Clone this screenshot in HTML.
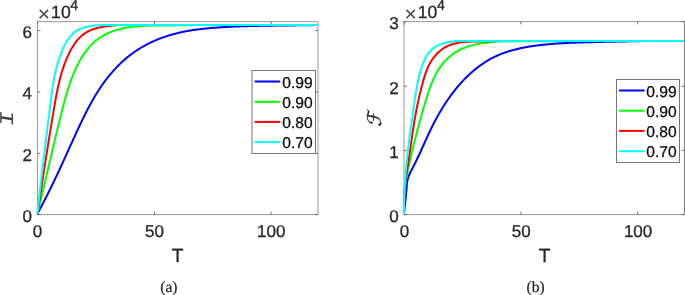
<!DOCTYPE html>
<html><head><meta charset="utf-8"><title>Figure</title>
<style>
html,body{margin:0;padding:0;background:#fff;}
body{width:685px;height:295px;overflow:hidden;}
svg{display:block;}
svg text{font-family:"Liberation Sans",sans-serif;text-rendering:geometricPrecision;stroke:#262626;stroke-width:0.3px;}
svg text.cap{font-family:"Liberation Serif",serif;stroke:#222;stroke-width:0.2px;}
svg text.mi{font-family:"Liberation Mono",monospace;stroke:none;}
svg text.cal{font-family:"DejaVu Sans","DejaVu Math TeX Gyre","DejaVu Serif",serif;}
</style></head><body>
<svg width="685" height="295" viewBox="0 0 685 295">
<rect width="685" height="295" fill="#fff"/>
<g id="left">
<rect x="37.5" y="21.6" width="280.5" height="193.0" fill="#fff" stroke="#999999" stroke-width="1"/>
<path d="M37.5 214.6v-2.8M37.5 21.6v2.8" stroke="#505050" stroke-width="0.8" fill="none"/>
<path d="M154.4 214.6v-2.8M154.4 21.6v2.8" stroke="#505050" stroke-width="0.8" fill="none"/>
<path d="M271.2 214.6v-2.8M271.2 21.6v2.8" stroke="#505050" stroke-width="0.8" fill="none"/>
<path d="M37.5 214.6h2.8M318.0 214.6h-2.8" stroke="#505050" stroke-width="0.8" fill="none"/>
<path d="M37.5 153.4h2.8M318.0 153.4h-2.8" stroke="#505050" stroke-width="0.8" fill="none"/>
<path d="M37.5 91.9h2.8M318.0 91.9h-2.8" stroke="#505050" stroke-width="0.8" fill="none"/>
<path d="M37.5 30.5h2.8M318.0 30.5h-2.8" stroke="#505050" stroke-width="0.8" fill="none"/>
<clipPath id="cl"><rect x="36.5" y="21.6" width="282.5" height="194.0"/></clipPath><g clip-path="url(#cl)" fill="none" stroke-width="2" stroke-linejoin="round">
<path d="M37.40 213.80 L37.88 212.91 L38.36 212.03 L38.84 211.14 L39.31 210.25 L39.79 209.37 L40.26 208.48 L40.73 207.59 L41.20 206.70 L41.67 205.81 L42.14 204.92 L42.60 204.03 L43.07 203.14 L43.53 202.25 L43.99 201.36 L44.45 200.47 L44.91 199.58 L45.37 198.69 L45.82 197.80 L46.28 196.90 L46.73 196.01 L47.18 195.12 L47.63 194.22 L48.08 193.33 L48.52 192.44 L48.97 191.54 L49.42 190.65 L49.86 189.75 L50.30 188.86 L50.74 187.96 L51.18 187.06 L51.62 186.17 L52.06 185.27 L52.49 184.37 L52.93 183.48 L53.36 182.58 L53.80 181.68 L54.23 180.78 L54.66 179.88 L55.09 178.99 L55.52 178.09 L55.94 177.19 L56.37 176.29 L56.79 175.39 L57.22 174.49 L57.64 173.59 L58.06 172.69 L58.49 171.79 L58.91 170.88 L59.33 169.98 L59.74 169.08 L60.16 168.18 L60.58 167.28 L60.99 166.37 L61.41 165.47 L61.82 164.57 L62.24 163.66 L62.65 162.76 L63.07 161.86 L63.48 160.95 L63.89 160.05 L64.30 159.14 L64.71 158.24 L65.12 157.33 L65.54 156.43 L65.95 155.52 L66.36 154.62 L66.77 153.71 L67.18 152.81 L67.59 151.90 L68.00 150.99 L68.41 150.09 L68.82 149.18 L69.23 148.27 L69.64 147.37 L70.05 146.46 L70.46 145.55 L70.87 144.64 L71.29 143.74 L71.70 142.83 L72.11 141.92 L72.53 141.01 L72.94 140.10 L73.35 139.19 L73.77 138.28 L74.19 137.38 L74.60 136.47 L75.02 135.56 L75.44 134.65 L75.86 133.74 L76.28 132.83 L76.70 131.92 L77.12 131.01 L77.54 130.10 L77.97 129.19 L78.39 128.28 L78.82 127.37 L79.25 126.45 L79.68 125.54 L80.11 124.63 L80.54 123.72 L80.97 122.81 L81.41 121.90 L81.85 120.99 L82.28 120.08 L82.73 119.17 L83.17 118.26 L83.61 117.36 L84.06 116.45 L84.51 115.54 L84.96 114.64 L85.41 113.73 L85.87 112.83 L86.33 111.93 L86.79 111.03 L87.25 110.13 L87.72 109.23 L88.19 108.33 L88.66 107.44 L89.13 106.54 L89.61 105.65 L90.09 104.76 L90.57 103.87 L91.06 102.99 L91.55 102.10 L92.05 101.22 L92.54 100.34 L93.04 99.46 L93.55 98.59 L94.06 97.71 L94.57 96.84 L95.09 95.98 L95.61 95.11 L96.13 94.25 L96.66 93.39 L97.19 92.53 L97.73 91.68 L98.27 90.83 L98.81 89.98 L99.36 89.14 L99.92 88.30 L100.48 87.46 L101.04 86.63 L101.61 85.80 L102.18 84.97 L102.76 84.15 L103.35 83.33 L103.93 82.51 L104.53 81.70 L105.13 80.90 L105.73 80.09 L106.34 79.30 L106.95 78.50 L107.57 77.71 L108.19 76.93 L108.82 76.15 L109.46 75.37 L110.09 74.60 L110.74 73.83 L111.39 73.07 L112.04 72.31 L112.70 71.56 L113.36 70.81 L114.03 70.07 L114.70 69.34 L115.38 68.61 L116.06 67.88 L116.75 67.16 L117.44 66.45 L118.14 65.74 L118.85 65.03 L119.55 64.34 L120.27 63.65 L120.98 62.96 L121.71 62.28 L122.43 61.61 L123.17 60.94 L123.90 60.28 L124.65 59.63 L125.39 58.98 L126.15 58.34 L126.90 57.71 L127.67 57.08 L128.43 56.46 L129.20 55.85 L129.98 55.24 L130.76 54.64 L131.55 54.05 L132.34 53.46 L133.14 52.88 L133.94 52.31 L134.75 51.75 L135.56 51.20 L136.37 50.65 L137.19 50.11 L138.02 49.57 L138.85 49.05 L139.68 48.53 L140.52 48.02 L141.36 47.51 L142.21 47.01 L143.06 46.52 L143.92 46.04 L144.78 45.56 L145.64 45.09 L146.51 44.63 L147.38 44.18 L148.26 43.73 L149.14 43.29 L150.03 42.86 L150.91 42.43 L151.81 42.01 L152.70 41.60 L153.60 41.19 L154.50 40.79 L155.41 40.40 L156.32 40.01 L157.23 39.63 L158.15 39.26 L159.07 38.90 L159.99 38.54 L160.91 38.19 L161.84 37.84 L162.78 37.50 L163.71 37.17 L164.65 36.85 L165.59 36.53 L166.53 36.21 L167.48 35.91 L168.43 35.61 L169.38 35.32 L170.33 35.03 L171.29 34.75 L172.25 34.48 L173.21 34.21 L174.18 33.95 L175.14 33.69 L176.11 33.44 L177.08 33.20 L178.05 32.97 L179.03 32.74 L180.01 32.51 L180.98 32.30 L181.97 32.08 L182.95 31.88 L183.93 31.68 L184.92 31.48 L185.91 31.29 L186.90 31.11 L187.89 30.93 L188.88 30.75 L189.87 30.58 L190.87 30.42 L191.86 30.26 L192.86 30.11 L193.86 29.96 L194.86 29.81 L195.86 29.67 L196.87 29.53 L197.87 29.40 L198.87 29.27 L199.88 29.15 L200.88 29.03 L201.89 28.91 L202.90 28.80 L203.91 28.69 L204.91 28.58 L205.92 28.48 L206.93 28.38 L207.94 28.29 L208.95 28.19 L209.96 28.10 L210.97 28.02 L211.98 27.93 L213.00 27.85 L214.01 27.77 L215.02 27.70 L216.03 27.63 L217.04 27.55 L218.05 27.48 L219.06 27.42 L220.07 27.35 L221.08 27.29 L222.09 27.23 L223.10 27.17 L224.11 27.11 L225.12 27.06 L226.12 27.00 L227.13 26.95 L228.14 26.90 L229.14 26.85 L230.15 26.80 L231.15 26.75 L232.16 26.70 L233.16 26.66 L234.16 26.61 L235.16 26.57 L236.17 26.53 L237.17 26.49 L238.17 26.45 L239.17 26.41 L240.17 26.38 L241.17 26.34 L242.17 26.31 L243.17 26.27 L244.17 26.24 L245.16 26.21 L246.16 26.18 L247.16 26.15 L248.16 26.12 L249.15 26.09 L250.15 26.07 L251.15 26.04 L252.14 26.01 L253.14 25.99 L254.14 25.97 L255.13 25.94 L256.13 25.92 L257.12 25.90 L258.12 25.88 L259.11 25.86 L260.10 25.84 L261.10 25.82 L262.09 25.80 L263.09 25.78 L264.08 25.77 L265.07 25.75 L266.07 25.74 L267.06 25.72 L268.06 25.70 L269.05 25.69 L270.04 25.68 L271.04 25.66 L272.03 25.65 L273.02 25.64 L274.02 25.62 L275.01 25.61 L276.00 25.60 L277.00 25.59 L277.99 25.57 L278.99 25.56 L279.98 25.55 L280.97 25.54 L281.97 25.53 L282.96 25.52 L283.96 25.51 L284.95 25.49 L285.95 25.48 L286.94 25.47 L287.94 25.46 L288.93 25.45 L289.93 25.44 L290.93 25.43 L291.92 25.42 L292.92 25.40 L293.92 25.39 L294.91 25.38 L295.91 25.37 L296.91 25.36 L297.91 25.34 L298.90 25.33 L299.90 25.32 L300.90 25.30 L301.90 25.29 L302.90 25.28 L303.90 25.26 L304.90 25.25 L305.91 25.23 L306.91 25.21 L307.91 25.20 L308.91 25.18 L309.92 25.16 L310.92 25.15 L311.92 25.13 L312.93 25.11 L313.93 25.09 L314.94 25.07 L315.95 25.05 L316.95 25.02 L317.96 25.00 L318.00 25.00" stroke="#0000ff"/>
<path d="M37.40 213.80 L37.64 212.82 L37.88 211.85 L38.11 210.87 L38.35 209.90 L38.59 208.92 L38.82 207.95 L39.06 206.97 L39.30 206.00 L39.53 205.02 L39.77 204.05 L40.00 203.07 L40.23 202.10 L40.47 201.13 L40.70 200.15 L40.93 199.18 L41.17 198.20 L41.40 197.23 L41.63 196.26 L41.86 195.28 L42.10 194.31 L42.33 193.34 L42.56 192.36 L42.79 191.39 L43.02 190.42 L43.25 189.44 L43.48 188.47 L43.71 187.50 L43.94 186.53 L44.17 185.55 L44.40 184.58 L44.63 183.61 L44.86 182.64 L45.08 181.66 L45.31 180.69 L45.54 179.72 L45.77 178.75 L46.00 177.78 L46.23 176.80 L46.45 175.83 L46.68 174.86 L46.91 173.89 L47.14 172.92 L47.37 171.95 L47.59 170.97 L47.82 170.00 L48.05 169.03 L48.28 168.06 L48.50 167.09 L48.73 166.12 L48.96 165.15 L49.19 164.17 L49.42 163.20 L49.64 162.23 L49.87 161.26 L50.10 160.29 L50.33 159.32 L50.56 158.35 L50.78 157.38 L51.01 156.41 L51.24 155.43 L51.47 154.46 L51.70 153.49 L51.93 152.52 L52.16 151.55 L52.38 150.58 L52.61 149.61 L52.84 148.64 L53.07 147.67 L53.30 146.70 L53.53 145.72 L53.76 144.75 L53.99 143.78 L54.23 142.81 L54.46 141.84 L54.69 140.87 L54.92 139.90 L55.15 138.93 L55.38 137.96 L55.62 136.98 L55.85 136.01 L56.08 135.04 L56.32 134.07 L56.55 133.10 L56.78 132.13 L57.02 131.16 L57.25 130.19 L57.49 129.21 L57.73 128.24 L57.96 127.27 L58.20 126.30 L58.44 125.33 L58.67 124.36 L58.91 123.38 L59.15 122.41 L59.39 121.44 L59.63 120.47 L59.87 119.50 L60.11 118.52 L60.35 117.55 L60.59 116.58 L60.83 115.61 L61.07 114.63 L61.32 113.66 L61.56 112.69 L61.80 111.72 L62.05 110.74 L62.30 109.77 L62.54 108.80 L62.79 107.83 L63.04 106.86 L63.29 105.88 L63.55 104.91 L63.80 103.94 L64.06 102.97 L64.32 102.00 L64.58 101.03 L64.84 100.07 L65.11 99.10 L65.38 98.13 L65.65 97.17 L65.92 96.20 L66.20 95.24 L66.48 94.27 L66.77 93.31 L67.06 92.35 L67.35 91.39 L67.64 90.43 L67.94 89.48 L68.24 88.52 L68.55 87.56 L68.86 86.61 L69.18 85.66 L69.50 84.71 L69.82 83.76 L70.15 82.81 L70.49 81.87 L70.83 80.93 L71.17 79.99 L71.52 79.05 L71.88 78.11 L72.24 77.17 L72.61 76.24 L72.98 75.31 L73.36 74.38 L73.75 73.45 L74.14 72.53 L74.54 71.60 L74.94 70.68 L75.36 69.77 L75.78 68.85 L76.20 67.94 L76.63 67.03 L77.07 66.12 L77.52 65.22 L77.98 64.32 L78.44 63.42 L78.91 62.52 L79.39 61.63 L79.88 60.75 L80.37 59.86 L80.88 58.99 L81.39 58.12 L81.91 57.25 L82.44 56.40 L82.98 55.55 L83.53 54.71 L84.08 53.87 L84.65 53.05 L85.23 52.23 L85.81 51.42 L86.41 50.62 L87.01 49.83 L87.63 49.06 L88.25 48.29 L88.89 47.54 L89.54 46.79 L90.20 46.06 L90.86 45.34 L91.54 44.64 L92.23 43.95 L92.93 43.27 L93.65 42.61 L94.37 41.96 L95.11 41.33 L95.85 40.71 L96.61 40.10 L97.37 39.51 L98.15 38.94 L98.94 38.37 L99.74 37.82 L100.54 37.29 L101.36 36.77 L102.18 36.26 L103.02 35.77 L103.86 35.29 L104.71 34.83 L105.57 34.38 L106.44 33.94 L107.32 33.52 L108.20 33.11 L109.09 32.71 L109.99 32.33 L110.90 31.96 L111.81 31.60 L112.73 31.26 L113.66 30.93 L114.59 30.61 L115.53 30.31 L116.47 30.01 L117.43 29.73 L118.38 29.47 L119.34 29.21 L120.31 28.97 L121.28 28.73 L122.26 28.51 L123.24 28.30 L124.22 28.10 L125.21 27.91 L126.20 27.72 L127.19 27.55 L128.19 27.39 L129.19 27.24 L130.19 27.09 L131.20 26.95 L132.20 26.83 L133.21 26.71 L134.22 26.59 L135.23 26.49 L136.24 26.39 L137.26 26.30 L138.27 26.21 L139.28 26.14 L140.30 26.06 L141.31 26.00 L142.32 25.94 L143.33 25.88 L144.35 25.83 L145.36 25.79 L146.37 25.74 L147.39 25.71 L148.40 25.67 L149.41 25.64 L150.42 25.62 L151.43 25.59 L152.44 25.57 L153.45 25.56 L154.46 25.54 L155.47 25.53 L156.48 25.52 L157.49 25.51 L158.50 25.50 L159.51 25.49 L160.52 25.48 L161.52 25.48 L162.53 25.47 L163.53 25.47 L164.54 25.46 L165.54 25.45 L166.55 25.44 L167.55 25.44 L168.56 25.43 L169.56 25.42 L170.56 25.41 L171.56 25.40 L172.56 25.39 L173.56 25.38 L174.56 25.37 L175.56 25.36 L176.56 25.34 L177.56 25.33 L178.56 25.32 L179.56 25.31 L180.56 25.30 L181.56 25.28 L182.55 25.27 L183.55 25.26 L184.55 25.24 L185.54 25.23 L186.54 25.22 L187.54 25.20 L188.53 25.19 L189.53 25.18 L190.52 25.16 L191.52 25.15 L192.52 25.14 L193.51 25.12 L194.51 25.11 L195.50 25.10 L196.50 25.08 L197.49 25.07 L198.49 25.06 L199.48 25.04 L200.47 24.90 L201.47 24.90 L202.46 24.90 L203.46 24.90 L204.45 24.90 L205.45 24.90 L206.44 24.90 L207.44 24.90 L208.43 24.90 L209.43 24.90 L210.42 24.90 L211.42 24.90 L212.42 24.90 L213.41 24.90 L214.41 24.90 L215.40 24.90 L216.40 24.90 L217.40 24.90 L218.40 24.90 L219.39 24.90 L220.39 24.90 L221.39 24.90 L222.39 24.90 L223.38 24.90 L224.38 24.90 L225.38 24.90 L226.38 24.90 L227.38 24.90 L228.38 24.90 L229.38 24.90 L230.38 24.90 L231.38 24.90 L232.38 24.90 L233.38 24.90 L234.38 24.90 L235.38 24.90 L236.38 24.90 L237.38 24.90 L238.38 24.90 L239.38 24.90 L240.38 24.90 L241.38 24.90 L242.38 24.90 L243.38 24.90 L244.38 24.90 L245.38 24.90 L246.39 24.90 L247.39 24.90 L248.39 24.90 L249.39 24.90 L250.39 24.90 L251.39 24.90 L252.40 24.90 L253.40 24.90 L254.40 24.90 L255.40 24.90 L256.40 24.90 L257.41 24.90 L258.41 24.90 L259.41 24.90 L260.41 24.90 L261.42 24.90 L262.42 24.90 L263.42 24.90 L264.42 24.90 L265.43 24.90 L266.43 24.90 L267.43 24.90 L268.43 24.90 L269.44 24.90 L270.44 24.90 L271.44 24.90 L272.44 24.90 L273.44 24.90 L274.45 24.90 L275.45 24.90 L276.45 24.90 L277.45 24.90 L278.45 24.90 L279.46 24.90 L280.46 24.90 L281.46 24.90 L282.46 24.90 L283.46 24.90 L284.46 24.90 L285.47 24.90 L286.47 24.90 L287.47 24.90 L288.47 24.90 L289.47 24.90 L290.47 24.90 L291.47 24.90 L292.47 24.90 L293.47 24.90 L294.47 24.90 L295.47 24.90 L296.47 24.90 L297.47 24.90 L298.47 24.90 L299.47 24.90 L300.47 24.90 L301.47 24.90 L302.47 24.90 L303.47 24.90 L304.47 24.90 L305.47 24.90 L306.47 24.90 L307.47 24.90 L308.46 24.90 L309.46 24.90 L310.46 24.90 L311.46 24.90 L312.45 24.90 L313.45 24.90 L314.45 24.90 L315.44 24.90 L316.44 24.90 L317.44 24.90 L318.00 24.90" stroke="#00ff00"/>
<path d="M37.40 213.80 L37.55 212.81 L37.71 211.81 L37.86 210.82 L38.02 209.82 L38.17 208.83 L38.33 207.84 L38.48 206.84 L38.63 205.85 L38.79 204.86 L38.94 203.87 L39.09 202.87 L39.25 201.88 L39.40 200.89 L39.55 199.90 L39.70 198.91 L39.85 197.92 L40.01 196.93 L40.16 195.94 L40.31 194.95 L40.46 193.96 L40.61 192.97 L40.77 191.98 L40.92 191.00 L41.07 190.01 L41.22 189.02 L41.37 188.03 L41.52 187.04 L41.67 186.06 L41.83 185.07 L41.98 184.08 L42.13 183.09 L42.28 182.11 L42.43 181.12 L42.58 180.13 L42.73 179.15 L42.88 178.16 L43.04 177.17 L43.19 176.19 L43.34 175.20 L43.49 174.22 L43.64 173.23 L43.79 172.25 L43.94 171.26 L44.09 170.28 L44.25 169.29 L44.40 168.31 L44.55 167.32 L44.70 166.34 L44.85 165.35 L45.01 164.37 L45.16 163.38 L45.31 162.40 L45.46 161.41 L45.61 160.43 L45.77 159.44 L45.92 158.46 L46.07 157.47 L46.23 156.49 L46.38 155.51 L46.53 154.52 L46.69 153.54 L46.84 152.55 L47.00 151.57 L47.15 150.58 L47.30 149.60 L47.46 148.61 L47.61 147.63 L47.77 146.65 L47.92 145.66 L48.08 144.68 L48.24 143.69 L48.39 142.71 L48.55 141.72 L48.71 140.74 L48.86 139.75 L49.02 138.77 L49.18 137.78 L49.34 136.80 L49.49 135.81 L49.65 134.83 L49.81 133.84 L49.97 132.86 L50.13 131.87 L50.29 130.89 L50.45 129.90 L50.61 128.92 L50.77 127.93 L50.93 126.94 L51.10 125.96 L51.26 124.97 L51.42 123.98 L51.58 123.00 L51.75 122.01 L51.91 121.02 L52.07 120.04 L52.24 119.05 L52.40 118.06 L52.57 117.07 L52.74 116.08 L52.90 115.10 L53.07 114.11 L53.24 113.12 L53.40 112.13 L53.57 111.14 L53.74 110.15 L53.91 109.16 L54.08 108.17 L54.25 107.18 L54.42 106.19 L54.59 105.20 L54.76 104.21 L54.94 103.22 L55.11 102.23 L55.29 101.24 L55.46 100.25 L55.64 99.25 L55.82 98.26 L56.00 97.27 L56.19 96.28 L56.37 95.29 L56.56 94.31 L56.75 93.32 L56.95 92.33 L57.15 91.34 L57.35 90.36 L57.55 89.37 L57.75 88.38 L57.96 87.40 L58.18 86.42 L58.40 85.44 L58.62 84.45 L58.84 83.47 L59.07 82.50 L59.31 81.52 L59.55 80.54 L59.79 79.57 L60.04 78.60 L60.29 77.62 L60.55 76.65 L60.82 75.68 L61.09 74.72 L61.36 73.75 L61.65 72.79 L61.93 71.83 L62.23 70.87 L62.53 69.91 L62.84 68.96 L63.15 68.00 L63.47 67.05 L63.80 66.10 L64.13 65.16 L64.48 64.21 L64.83 63.27 L65.18 62.33 L65.55 61.40 L65.92 60.46 L66.31 59.53 L66.70 58.61 L67.09 57.68 L67.50 56.76 L67.92 55.84 L68.34 54.92 L68.78 54.01 L69.22 53.10 L69.68 52.19 L70.14 51.29 L70.61 50.40 L71.10 49.51 L71.59 48.63 L72.09 47.76 L72.61 46.89 L73.14 46.04 L73.68 45.20 L74.23 44.36 L74.79 43.55 L75.37 42.74 L75.95 41.95 L76.56 41.17 L77.17 40.41 L77.80 39.66 L78.44 38.94 L79.09 38.23 L79.76 37.54 L80.44 36.86 L81.14 36.21 L81.85 35.58 L82.58 34.98 L83.32 34.39 L84.08 33.83 L84.86 33.29 L85.65 32.78 L86.45 32.30 L87.27 31.83 L88.11 31.39 L88.95 30.97 L89.82 30.57 L90.69 30.20 L91.57 29.84 L92.47 29.50 L93.38 29.18 L94.30 28.88 L95.23 28.59 L96.16 28.32 L97.11 28.07 L98.06 27.83 L99.03 27.60 L100.00 27.39 L100.97 27.19 L101.95 27.00 L102.94 26.82 L103.93 26.65 L104.93 26.50 L105.93 26.35 L106.93 26.20 L107.93 26.07 L108.94 25.94 L109.95 25.82 L110.96 25.71 L111.98 25.60 L113.00 25.50 L114.01 25.40 L115.03 25.32 L116.05 25.23 L117.07 25.16 L118.10 25.09 L119.12 25.02 L120.14 24.96 L121.17 24.91 L122.19 24.90 L123.22 24.90 L124.24 24.90 L125.27 24.90 L126.29 24.90 L127.31 24.90 L128.34 24.90 L129.36 24.90 L130.38 24.90 L131.39 24.90 L132.41 24.90 L133.43 24.90 L134.44 24.90 L135.45 24.90 L136.46 24.90 L137.47 24.90 L138.48 24.90 L139.48 24.90 L140.48 24.90 L141.48 24.90 L142.48 24.90 L143.48 24.90 L144.48 24.90 L145.48 24.90 L146.47 24.90 L147.46 24.90 L148.46 24.90 L149.45 24.90 L150.44 24.90 L151.43 24.90 L152.43 24.90 L153.42 24.90 L154.41 24.90 L155.40 24.90 L156.39 24.90 L157.38 24.90 L158.37 24.90 L159.36 24.90 L160.35 24.90 L161.34 24.90 L162.33 24.90 L163.32 24.90 L164.32 24.90 L165.31 24.90 L166.30 24.90 L167.30 24.90 L168.29 24.90 L169.29 24.90 L170.28 24.90 L171.28 24.90 L172.27 24.90 L173.27 24.90 L174.27 24.90 L175.26 24.90 L176.26 24.90 L177.26 24.90 L178.26 24.90 L179.26 24.90 L180.25 24.90 L181.25 24.90 L182.25 24.90 L183.25 24.90 L184.25 24.90 L185.25 24.90 L186.25 24.90 L187.25 24.90 L188.25 24.90 L189.25 24.90 L190.25 24.90 L191.26 24.90 L192.26 24.90 L193.26 24.90 L194.26 24.90 L195.26 24.90 L196.26 24.90 L197.26 24.90 L198.27 24.90 L199.27 24.90 L200.27 24.90 L201.27 24.90 L202.27 24.90 L203.28 24.90 L204.28 24.90 L205.28 24.90 L206.28 24.90 L207.28 24.90 L208.29 24.90 L209.29 24.90 L210.29 24.90 L211.29 24.90 L212.29 24.90 L213.30 24.90 L214.30 24.90 L215.30 24.90 L216.30 24.90 L217.30 24.90 L218.30 24.90 L219.30 24.90 L220.31 24.90 L221.31 24.90 L222.31 24.90 L223.31 24.90 L224.31 24.90 L225.31 24.90 L226.31 24.90 L227.31 24.90 L228.31 24.90 L229.31 24.90 L230.31 24.90 L231.31 24.90 L232.31 24.90 L233.31 24.90 L234.31 24.90 L235.31 24.90 L236.31 24.90 L237.31 24.90 L238.31 24.90 L239.31 24.90 L240.31 24.90 L241.31 24.90 L242.31 24.90 L243.31 24.90 L244.31 24.90 L245.31 24.90 L246.31 24.90 L247.31 24.90 L248.31 24.90 L249.31 24.90 L250.31 24.90 L251.31 24.90 L252.31 24.90 L253.31 24.90 L254.31 24.90 L255.31 24.90 L256.31 24.90 L257.31 24.90 L258.31 24.90 L259.31 24.90 L260.31 24.90 L261.31 24.90 L262.30 24.90 L263.30 24.90 L264.30 24.90 L265.30 24.90 L266.30 24.90 L267.30 24.90 L268.30 24.90 L269.30 24.90 L270.30 24.90 L271.30 24.90 L272.30 24.90 L273.30 24.90 L274.30 24.90 L275.30 24.90 L276.30 24.90 L277.29 24.90 L278.29 24.90 L279.29 24.90 L280.29 24.90 L281.29 24.90 L282.29 24.90 L283.29 24.90 L284.29 24.90 L285.29 24.90 L286.29 24.90 L287.29 24.90 L288.29 24.90 L289.29 24.90 L290.29 24.90 L291.29 24.90 L292.29 24.90 L293.29 24.90 L294.29 24.90 L295.29 24.90 L296.29 24.90 L297.29 24.90 L298.29 24.90 L299.29 24.90 L300.29 24.90 L301.29 24.90 L302.29 24.90 L303.29 24.90 L304.29 24.90 L305.29 24.90 L306.29 24.90 L307.29 24.90 L308.29 24.90 L309.29 24.90 L310.30 24.90 L311.30 24.90 L312.30 24.90 L313.30 24.90 L314.30 24.90 L315.30 24.90 L316.30 24.90 L317.30 24.90 L318.00 24.90" stroke="#ff0000"/>
<path d="M37.40 213.80 L37.51 212.80 L37.61 211.81 L37.72 210.81 L37.83 209.81 L37.94 208.82 L38.04 207.82 L38.15 206.82 L38.26 205.83 L38.37 204.83 L38.48 203.84 L38.59 202.84 L38.70 201.85 L38.81 200.85 L38.92 199.86 L39.03 198.86 L39.14 197.87 L39.25 196.87 L39.37 195.88 L39.48 194.88 L39.59 193.89 L39.70 192.90 L39.82 191.90 L39.93 190.91 L40.04 189.92 L40.16 188.92 L40.27 187.93 L40.39 186.93 L40.50 185.94 L40.62 184.95 L40.73 183.96 L40.85 182.96 L40.96 181.97 L41.08 180.98 L41.19 179.98 L41.31 178.99 L41.43 178.00 L41.54 177.01 L41.66 176.02 L41.78 175.02 L41.90 174.03 L42.01 173.04 L42.13 172.05 L42.25 171.06 L42.37 170.06 L42.49 169.07 L42.60 168.08 L42.72 167.09 L42.84 166.10 L42.96 165.10 L43.08 164.11 L43.20 163.12 L43.32 162.13 L43.44 161.14 L43.56 160.15 L43.68 159.16 L43.80 158.17 L43.92 157.17 L44.04 156.18 L44.16 155.19 L44.28 154.20 L44.40 153.21 L44.52 152.22 L44.64 151.23 L44.76 150.24 L44.88 149.24 L45.01 148.25 L45.13 147.26 L45.25 146.27 L45.37 145.28 L45.49 144.29 L45.61 143.30 L45.73 142.31 L45.86 141.32 L45.98 140.32 L46.10 139.33 L46.22 138.34 L46.34 137.35 L46.46 136.36 L46.59 135.37 L46.71 134.38 L46.83 133.38 L46.95 132.39 L47.07 131.40 L47.20 130.41 L47.32 129.42 L47.44 128.43 L47.56 127.43 L47.68 126.44 L47.81 125.45 L47.93 124.46 L48.05 123.47 L48.17 122.48 L48.29 121.48 L48.42 120.49 L48.54 119.50 L48.66 118.51 L48.78 117.51 L48.90 116.52 L49.02 115.53 L49.15 114.54 L49.27 113.54 L49.39 112.55 L49.51 111.56 L49.63 110.56 L49.75 109.57 L49.87 108.58 L50.00 107.58 L50.12 106.59 L50.24 105.60 L50.36 104.60 L50.48 103.61 L50.60 102.62 L50.72 101.62 L50.85 100.63 L50.97 99.64 L51.09 98.64 L51.22 97.65 L51.35 96.65 L51.48 95.66 L51.61 94.67 L51.74 93.68 L51.87 92.68 L52.01 91.69 L52.15 90.70 L52.29 89.71 L52.44 88.72 L52.59 87.73 L52.74 86.73 L52.89 85.74 L53.05 84.76 L53.21 83.77 L53.38 82.78 L53.54 81.79 L53.72 80.80 L53.90 79.82 L54.08 78.83 L54.27 77.85 L54.46 76.86 L54.66 75.88 L54.86 74.90 L55.07 73.91 L55.28 72.93 L55.50 71.95 L55.72 70.97 L55.95 69.99 L56.19 69.02 L56.44 68.04 L56.69 67.07 L56.94 66.09 L57.21 65.12 L57.48 64.15 L57.76 63.17 L58.04 62.21 L58.34 61.24 L58.64 60.27 L58.95 59.30 L59.27 58.34 L59.59 57.38 L59.93 56.41 L60.27 55.45 L60.63 54.49 L60.99 53.54 L61.36 52.58 L61.74 51.62 L62.13 50.67 L62.53 49.73 L62.94 48.79 L63.36 47.85 L63.80 46.92 L64.24 46.00 L64.70 45.09 L65.17 44.19 L65.65 43.31 L66.15 42.43 L66.66 41.57 L67.18 40.73 L67.72 39.90 L68.27 39.08 L68.83 38.29 L69.42 37.52 L70.02 36.76 L70.63 36.03 L71.26 35.32 L71.91 34.63 L72.57 33.97 L73.26 33.33 L73.96 32.72 L74.67 32.14 L75.41 31.59 L76.17 31.06 L76.94 30.57 L77.74 30.11 L78.55 29.67 L79.38 29.26 L80.22 28.88 L81.08 28.52 L81.95 28.19 L82.84 27.88 L83.74 27.59 L84.66 27.33 L85.58 27.08 L86.52 26.86 L87.46 26.65 L88.42 26.46 L89.38 26.28 L90.36 26.12 L91.34 25.97 L92.32 25.84 L93.32 25.72 L94.31 25.61 L95.32 25.52 L96.32 25.43 L97.33 25.34 L98.34 25.27 L99.36 25.20 L100.37 25.14 L101.39 25.08 L102.40 25.03 L103.41 24.98 L104.43 24.93 L105.44 24.90 L106.45 24.90 L107.47 24.90 L108.48 24.90 L109.49 24.90 L110.51 24.90 L111.52 24.90 L112.53 24.90 L113.54 24.90 L114.55 24.90 L115.56 24.90 L116.57 24.90 L117.58 24.90 L118.59 24.90 L119.60 24.90 L120.61 24.90 L121.62 24.90 L122.63 24.90 L123.64 24.90 L124.65 24.90 L125.66 24.90 L126.67 24.90 L127.67 24.90 L128.68 24.90 L129.69 24.90 L130.70 24.90 L131.71 24.90 L132.71 24.90 L133.72 24.90 L134.73 24.90 L135.73 24.90 L136.74 24.90 L137.75 24.90 L138.75 24.90 L139.76 24.90 L140.76 24.90 L141.77 24.90 L142.77 24.90 L143.78 24.90 L144.78 24.90 L145.79 24.90 L146.79 24.90 L147.80 24.90 L148.80 24.90 L149.80 24.90 L150.81 24.90 L151.81 24.90 L152.82 24.90 L153.82 24.90 L154.82 24.90 L155.82 24.90 L156.83 24.90 L157.83 24.90 L158.83 24.90 L159.83 24.90 L160.84 24.90 L161.84 24.90 L162.84 24.90 L163.84 24.90 L164.84 24.90 L165.85 24.90 L166.85 24.90 L167.85 24.90 L168.85 24.90 L169.85 24.90 L170.85 24.90 L171.85 24.90 L172.85 24.90 L173.85 24.90 L174.85 24.90 L175.85 24.90 L176.85 24.90 L177.85 24.90 L178.85 24.90 L179.85 24.90 L180.85 24.90 L181.85 24.90 L182.85 24.90 L183.85 24.90 L184.85 24.90 L185.85 24.90 L186.85 24.90 L187.85 24.90 L188.85 24.90 L189.85 24.90 L190.85 24.90 L191.84 24.90 L192.84 24.90 L193.84 24.90 L194.84 24.90 L195.84 24.90 L196.84 24.90 L197.83 24.90 L198.83 24.90 L199.83 24.90 L200.83 24.90 L201.83 24.90 L202.82 24.90 L203.82 24.90 L204.82 24.90 L205.82 24.90 L206.82 24.90 L207.81 24.90 L208.81 24.90 L209.81 24.90 L210.81 24.90 L211.80 24.90 L212.80 24.90 L213.80 24.90 L214.80 24.90 L215.79 24.90 L216.79 24.90 L217.79 24.90 L218.79 24.90 L219.78 24.90 L220.78 24.90 L221.78 24.90 L222.77 24.90 L223.77 24.90 L224.77 24.90 L225.77 24.90 L226.76 24.90 L227.76 24.90 L228.76 24.90 L229.75 24.90 L230.75 24.90 L231.75 24.90 L232.75 24.90 L233.74 24.90 L234.74 24.90 L235.74 24.90 L236.74 24.90 L237.73 24.90 L238.73 24.90 L239.73 24.90 L240.72 24.90 L241.72 24.90 L242.72 24.90 L243.72 24.90 L244.71 24.90 L245.71 24.90 L246.71 24.90 L247.71 24.90 L248.70 24.90 L249.70 24.90 L250.70 24.90 L251.70 24.90 L252.69 24.90 L253.69 24.90 L254.69 24.90 L255.69 24.90 L256.69 24.90 L257.68 24.90 L258.68 24.90 L259.68 24.90 L260.68 24.90 L261.68 24.90 L262.67 24.90 L263.67 24.90 L264.67 24.90 L265.67 24.90 L266.67 24.90 L267.67 24.90 L268.67 24.90 L269.66 24.90 L270.66 24.90 L271.66 24.90 L272.66 24.90 L273.66 24.90 L274.66 24.90 L275.66 24.90 L276.66 24.90 L277.66 24.90 L278.66 24.90 L279.66 24.90 L280.66 24.90 L281.66 24.90 L282.66 24.90 L283.66 24.90 L284.66 24.90 L285.66 24.90 L286.66 24.90 L287.66 24.90 L288.66 24.90 L289.66 24.90 L290.66 24.90 L291.66 24.90 L292.67 24.90 L293.67 24.90 L294.67 24.90 L295.67 24.90 L296.67 24.90 L297.67 24.90 L298.68 24.90 L299.68 24.90 L300.68 24.90 L301.68 24.90 L302.69 24.90 L303.69 24.90 L304.69 24.90 L305.70 24.90 L306.70 24.90 L307.70 24.90 L308.71 24.90 L309.71 24.90 L310.71 24.90 L311.72 24.90 L312.72 24.90 L313.73 24.90 L314.73 24.90 L315.74 24.90 L316.74 24.90 L317.75 24.90 L318.00 24.90" stroke="#00ffff"/>
</g>
<rect x="252.0" y="70.5" width="63.5" height="83.0" fill="#fff" stroke="#747474" stroke-width="1"/>
<path d="M254.7 81.5H280.2" stroke="#0000ff" stroke-width="2" fill="none"/>
<text x="282.3" y="87.6" font-size="15.6" fill="#000">0.99</text>
<path d="M254.7 101.8H280.2" stroke="#00ff00" stroke-width="2" fill="none"/>
<text x="282.3" y="107.9" font-size="15.6" fill="#000">0.90</text>
<path d="M254.7 121.9H280.2" stroke="#ff0000" stroke-width="2" fill="none"/>
<text x="282.3" y="128.0" font-size="15.6" fill="#000">0.80</text>
<path d="M254.7 142.1H280.2" stroke="#00ffff" stroke-width="2" fill="none"/>
<text x="282.3" y="148.2" font-size="15.6" fill="#000">0.70</text>
<text x="32" y="221.8" font-size="17" fill="#262626" text-anchor="end">0</text>
<text x="32" y="160.6" font-size="17" fill="#262626" text-anchor="end">2</text>
<text x="32" y="99.1" font-size="17" fill="#262626" text-anchor="end">4</text>
<text x="32" y="37.7" font-size="17" fill="#262626" text-anchor="end">6</text>
<text x="37.5" y="237.2" font-size="17" fill="#262626" text-anchor="middle">0</text>
<text x="154.4" y="237.2" font-size="17" fill="#262626" text-anchor="middle">50</text>
<text x="271.2" y="237.2" font-size="17" fill="#262626" text-anchor="middle">100</text>
<text y="18.2" fill="#262626"><tspan x="37.8" y="20.8" font-size="21" fill="#484848" stroke="none">×</tspan><tspan x="51.1" y="18.2" font-size="17.6">10</tspan><tspan x="70.3" y="10.4" font-size="14.2">4</tspan></text>
<text x="177.6" y="262" font-size="19.2" fill="#262626" text-anchor="middle">T</text>
<text class="mi" transform="translate(13.1,119.3) rotate(-90) skewX(-8) scale(1.38,1)" font-size="19.5" fill="#454545" text-anchor="middle">I</text>
<text class="cap" x="168.9" y="292.2" font-size="15.6" fill="#222" text-anchor="middle">(a)</text>
</g>
<g id="right">
<rect x="404.0" y="21.6" width="280.4" height="193.0" fill="#fff" stroke="#999999" stroke-width="1"/>
<path d="M404.0 214.6v-2.8M404.0 21.6v2.8" stroke="#505050" stroke-width="0.8" fill="none"/>
<path d="M520.8 214.6v-2.8M520.8 21.6v2.8" stroke="#505050" stroke-width="0.8" fill="none"/>
<path d="M637.7 214.6v-2.8M637.7 21.6v2.8" stroke="#505050" stroke-width="0.8" fill="none"/>
<path d="M404.0 214.6h2.8M684.4 214.6h-2.8" stroke="#505050" stroke-width="0.8" fill="none"/>
<path d="M404.0 150.4h2.8M684.4 150.4h-2.8" stroke="#505050" stroke-width="0.8" fill="none"/>
<path d="M404.0 86.3h2.8M684.4 86.3h-2.8" stroke="#505050" stroke-width="0.8" fill="none"/>
<path d="M404.0 21.6h2.8M684.4 21.6h-2.8" stroke="#505050" stroke-width="0.8" fill="none"/>
<path d="M684.5 21.1V215.1" stroke="#808080" stroke-width="1" fill="none"/>
<clipPath id="cr"><rect x="403.0" y="21.6" width="282.4" height="194.0"/></clipPath><g clip-path="url(#cr)" fill="none" stroke-width="2" stroke-linejoin="round">
<path d="M404.00 214.00 L404.09 212.96 L404.18 211.93 L404.28 210.90 L404.38 209.88 L404.49 208.85 L404.59 207.83 L404.71 206.82 L404.82 205.81 L404.93 204.80 L405.05 203.79 L405.17 202.79 L405.28 201.79 L405.40 200.79 L405.51 199.80 L405.62 198.81 L405.73 197.82 L405.84 196.84 L405.95 195.85 L406.05 194.88 L406.14 193.90 L406.23 192.92 L406.32 191.95 L406.40 190.98 L406.47 190.02 L406.54 189.05 L406.61 188.09 L406.67 187.13 L406.74 186.18 L406.81 185.22 L406.90 184.27 L407.00 183.32 L407.13 182.37 L407.28 181.42 L407.45 180.48 L407.66 179.54 L407.90 178.60 L408.18 177.66 L408.50 176.72 L408.85 175.79 L409.23 174.85 L409.64 173.92 L410.07 172.99 L410.52 172.06 L410.98 171.13 L411.45 170.21 L411.93 169.28 L412.41 168.36 L412.90 167.44 L413.37 166.52 L413.85 165.60 L414.31 164.68 L414.78 163.76 L415.23 162.85 L415.69 161.93 L416.14 161.02 L416.58 160.11 L417.02 159.20 L417.46 158.28 L417.89 157.38 L418.32 156.47 L418.75 155.56 L419.17 154.65 L419.59 153.75 L420.01 152.84 L420.43 151.94 L420.84 151.04 L421.25 150.13 L421.66 149.23 L422.07 148.33 L422.48 147.43 L422.89 146.54 L423.29 145.64 L423.70 144.74 L424.10 143.85 L424.51 142.95 L424.91 142.06 L425.32 141.16 L425.72 140.27 L426.13 139.38 L426.53 138.49 L426.94 137.59 L427.35 136.70 L427.76 135.81 L428.17 134.92 L428.58 134.04 L429.00 133.15 L429.41 132.26 L429.83 131.37 L430.25 130.49 L430.68 129.60 L431.11 128.72 L431.54 127.83 L431.97 126.95 L432.41 126.06 L432.85 125.18 L433.30 124.29 L433.75 123.41 L434.20 122.53 L434.66 121.65 L435.13 120.77 L435.59 119.88 L436.07 119.00 L436.54 118.13 L437.02 117.25 L437.51 116.37 L438.00 115.49 L438.49 114.62 L438.99 113.75 L439.49 112.88 L440.00 112.01 L440.51 111.14 L441.03 110.27 L441.55 109.41 L442.08 108.54 L442.61 107.68 L443.14 106.82 L443.68 105.97 L444.22 105.11 L444.77 104.26 L445.32 103.41 L445.88 102.57 L446.44 101.73 L447.01 100.88 L447.58 100.05 L448.15 99.21 L448.73 98.38 L449.32 97.55 L449.91 96.73 L450.50 95.91 L451.10 95.09 L451.70 94.28 L452.31 93.47 L452.92 92.66 L453.54 91.86 L454.16 91.06 L454.79 90.27 L455.42 89.48 L456.05 88.69 L456.69 87.91 L457.34 87.13 L457.99 86.36 L458.64 85.59 L459.30 84.83 L459.97 84.07 L460.64 83.32 L461.31 82.57 L461.99 81.83 L462.67 81.10 L463.36 80.36 L464.05 79.64 L464.75 78.92 L465.45 78.21 L466.16 77.50 L466.87 76.79 L467.59 76.10 L468.31 75.41 L469.04 74.72 L469.77 74.05 L470.50 73.37 L471.25 72.71 L471.99 72.05 L472.74 71.40 L473.50 70.75 L474.26 70.12 L475.02 69.49 L475.79 68.86 L476.57 68.25 L477.35 67.64 L478.14 67.04 L478.93 66.44 L479.72 65.85 L480.52 65.28 L481.33 64.70 L482.14 64.14 L482.95 63.59 L483.77 63.04 L484.60 62.50 L485.43 61.97 L486.27 61.45 L487.11 60.93 L487.95 60.43 L488.80 59.93 L489.66 59.44 L490.52 58.96 L491.38 58.49 L492.26 58.03 L493.13 57.58 L494.01 57.14 L494.90 56.71 L495.79 56.28 L496.69 55.87 L497.59 55.47 L498.50 55.07 L499.41 54.68 L500.32 54.31 L501.24 53.94 L502.17 53.58 L503.10 53.23 L504.03 52.89 L504.97 52.55 L505.91 52.23 L506.86 51.91 L507.81 51.60 L508.76 51.30 L509.72 51.01 L510.68 50.72 L511.64 50.45 L512.60 50.18 L513.57 49.91 L514.54 49.66 L515.52 49.41 L516.50 49.16 L517.48 48.93 L518.46 48.70 L519.44 48.48 L520.43 48.26 L521.42 48.05 L522.41 47.84 L523.40 47.65 L524.39 47.45 L525.39 47.27 L526.39 47.09 L527.38 46.91 L528.38 46.74 L529.38 46.58 L530.39 46.41 L531.39 46.26 L532.39 46.11 L533.39 45.96 L534.40 45.82 L535.40 45.68 L536.41 45.55 L537.41 45.42 L538.42 45.30 L539.42 45.18 L540.42 45.06 L541.43 44.95 L542.43 44.84 L543.43 44.73 L544.44 44.63 L545.44 44.53 L546.44 44.43 L547.44 44.34 L548.44 44.24 L549.44 44.16 L550.44 44.07 L551.44 43.99 L552.43 43.91 L553.43 43.83 L554.43 43.76 L555.42 43.68 L556.42 43.61 L557.41 43.55 L558.41 43.48 L559.40 43.42 L560.40 43.36 L561.39 43.30 L562.39 43.24 L563.38 43.19 L564.38 43.14 L565.37 43.09 L566.36 43.04 L567.35 42.99 L568.35 42.94 L569.34 42.90 L570.33 42.86 L571.33 42.82 L572.32 42.78 L573.31 42.74 L574.30 42.70 L575.29 42.67 L576.29 42.63 L577.28 42.60 L578.27 42.56 L579.26 42.53 L580.26 42.50 L581.25 42.47 L582.24 42.44 L583.24 42.41 L584.23 42.38 L585.22 42.36 L586.22 42.33 L587.21 42.30 L588.21 42.28 L589.20 42.25 L590.20 42.22 L591.19 42.20 L592.19 42.17 L593.18 42.15 L594.18 42.12 L595.17 42.09 L596.17 42.07 L597.17 42.04 L598.17 42.02 L599.16 41.99 L600.16 41.97 L601.16 41.94 L602.16 41.92 L603.16 41.89 L604.16 41.87 L605.16 41.84 L606.16 41.82 L607.16 41.80 L608.16 41.77 L609.16 41.75 L610.16 41.73 L611.16 41.70 L612.16 41.68 L613.16 41.66 L614.16 41.63 L615.16 41.61 L616.16 41.59 L617.17 41.57 L618.17 41.54 L619.17 41.52 L620.17 41.50 L621.17 41.48 L622.18 41.46 L623.18 41.44 L624.18 41.42 L625.18 41.40 L626.19 41.38 L627.19 41.36 L628.19 41.34 L629.20 41.32 L630.20 41.30 L631.20 41.28 L632.20 41.27 L633.21 41.25 L634.21 41.23 L635.21 41.21 L636.22 41.20 L637.22 41.18 L638.22 41.16 L639.23 41.15 L640.23 41.13 L641.23 41.12 L642.24 41.10 L643.24 41.09 L644.24 41.08 L645.24 41.06 L646.25 41.05 L647.25 41.04 L648.25 41.02 L649.26 41.01 L650.26 41.00 L651.26 40.99 L652.26 40.98 L653.26 40.97 L654.27 40.96 L655.27 40.95 L656.27 40.94 L657.27 40.93 L658.27 40.92 L659.27 40.92 L660.27 40.90 L661.28 40.90 L662.28 40.90 L663.28 40.90 L664.28 40.90 L665.28 40.90 L666.28 40.90 L667.28 40.90 L668.27 40.90 L669.27 40.90 L670.27 40.90 L671.27 40.90 L672.27 40.90 L673.27 40.90 L674.26 40.90 L675.26 40.90 L676.26 40.90 L677.26 40.90 L678.25 40.90 L679.25 40.90 L680.24 40.90 L681.24 40.90 L682.23 40.90 L683.23 40.90 L684.22 40.90 L684.40 40.90" stroke="#0000ff"/>
<path d="M404.00 214.00 L404.00 212.98 L404.00 211.95 L404.01 210.93 L404.01 209.92 L404.02 208.90 L404.03 207.88 L404.05 206.87 L404.06 205.86 L404.08 204.85 L404.10 203.84 L404.13 202.83 L404.16 201.82 L404.19 200.82 L404.23 199.81 L404.27 198.81 L404.31 197.81 L404.36 196.81 L404.42 195.81 L404.48 194.82 L404.54 193.82 L404.61 192.83 L404.69 191.83 L404.77 190.84 L404.86 189.85 L404.96 188.86 L405.06 187.87 L405.17 186.89 L405.28 185.90 L405.40 184.91 L405.53 183.93 L405.66 182.95 L405.81 181.96 L405.95 180.98 L406.10 180.00 L406.26 179.02 L406.42 178.04 L406.59 177.07 L406.77 176.09 L406.94 175.11 L407.12 174.14 L407.31 173.16 L407.50 172.19 L407.69 171.21 L407.89 170.24 L408.09 169.27 L408.29 168.30 L408.49 167.33 L408.70 166.36 L408.91 165.39 L409.12 164.42 L409.34 163.45 L409.55 162.48 L409.77 161.51 L409.98 160.54 L410.20 159.58 L410.42 158.61 L410.65 157.64 L410.87 156.68 L411.09 155.71 L411.32 154.75 L411.55 153.78 L411.78 152.81 L412.01 151.85 L412.24 150.89 L412.47 149.92 L412.71 148.96 L412.94 147.99 L413.18 147.03 L413.42 146.06 L413.66 145.10 L413.90 144.13 L414.14 143.17 L414.38 142.20 L414.63 141.24 L414.87 140.28 L415.12 139.31 L415.37 138.35 L415.61 137.38 L415.86 136.42 L416.12 135.45 L416.37 134.48 L416.62 133.52 L416.88 132.55 L417.13 131.58 L417.39 130.62 L417.65 129.65 L417.91 128.68 L418.17 127.71 L418.43 126.74 L418.69 125.77 L418.95 124.80 L419.22 123.83 L419.48 122.86 L419.75 121.89 L420.02 120.92 L420.28 119.95 L420.55 118.97 L420.82 118.00 L421.09 117.02 L421.37 116.05 L421.64 115.07 L421.91 114.09 L422.19 113.12 L422.46 112.14 L422.74 111.16 L423.02 110.18 L423.29 109.20 L423.57 108.22 L423.86 107.24 L424.14 106.26 L424.42 105.28 L424.71 104.30 L425.00 103.32 L425.29 102.34 L425.59 101.37 L425.88 100.39 L426.18 99.42 L426.48 98.45 L426.78 97.48 L427.09 96.51 L427.40 95.55 L427.71 94.58 L428.03 93.62 L428.35 92.66 L428.67 91.71 L428.99 90.76 L429.32 89.81 L429.66 88.86 L429.99 87.92 L430.34 86.98 L430.68 86.05 L431.03 85.12 L431.39 84.19 L431.75 83.27 L432.12 82.35 L432.49 81.44 L432.87 80.53 L433.26 79.63 L433.66 78.73 L434.06 77.84 L434.48 76.95 L434.90 76.07 L435.34 75.20 L435.78 74.33 L436.24 73.47 L436.71 72.61 L437.19 71.77 L437.68 70.92 L438.19 70.09 L438.71 69.26 L439.24 68.44 L439.79 67.63 L440.35 66.82 L440.93 66.03 L441.53 65.24 L442.14 64.46 L442.77 63.68 L443.41 62.92 L444.07 62.17 L444.74 61.43 L445.43 60.69 L446.13 59.97 L446.84 59.26 L447.57 58.57 L448.31 57.88 L449.06 57.21 L449.83 56.55 L450.60 55.91 L451.39 55.28 L452.19 54.66 L453.00 54.06 L453.83 53.48 L454.66 52.91 L455.50 52.36 L456.35 51.83 L457.21 51.31 L458.08 50.81 L458.96 50.33 L459.85 49.87 L460.74 49.42 L461.64 49.00 L462.55 48.59 L463.47 48.20 L464.39 47.82 L465.32 47.46 L466.26 47.12 L467.20 46.79 L468.15 46.48 L469.10 46.18 L470.06 45.89 L471.02 45.62 L471.98 45.36 L472.95 45.11 L473.92 44.88 L474.90 44.65 L475.88 44.44 L476.86 44.23 L477.84 44.04 L478.82 43.85 L479.81 43.68 L480.80 43.51 L481.78 43.35 L482.77 43.20 L483.76 43.05 L484.75 42.91 L485.74 42.78 L486.72 42.65 L487.71 42.53 L488.70 42.42 L489.69 42.31 L490.68 42.21 L491.67 42.12 L492.66 42.03 L493.65 41.94 L494.64 41.86 L495.63 41.79 L496.63 41.72 L497.62 41.65 L498.61 41.59 L499.60 41.54 L500.59 41.49 L501.59 41.44 L502.58 41.40 L503.57 41.36 L504.56 41.32 L505.56 41.29 L506.55 41.26 L507.54 41.24 L508.54 41.22 L509.53 41.20 L510.53 41.18 L511.52 41.17 L512.52 41.16 L513.51 41.15 L514.51 41.14 L515.50 41.14 L516.50 41.13 L517.49 41.13 L518.49 41.13 L519.48 41.13 L520.48 41.14 L521.48 41.14 L522.47 41.15 L523.47 41.15 L524.47 41.16 L525.46 41.16 L526.46 41.17 L527.46 41.18 L528.46 41.18 L529.45 41.19 L530.45 41.20 L531.45 41.20 L532.45 41.21 L533.45 41.21 L534.44 41.22 L535.44 41.22 L536.44 41.22 L537.44 41.22 L538.44 41.22 L539.44 41.22 L540.44 41.22 L541.44 41.22 L542.44 41.22 L543.44 41.21 L544.44 41.21 L545.44 41.21 L546.44 41.20 L547.44 41.19 L548.44 41.19 L549.44 41.18 L550.44 41.17 L551.44 41.17 L552.44 41.16 L553.44 41.15 L554.44 41.14 L555.44 41.13 L556.44 41.12 L557.44 41.11 L558.44 41.10 L559.45 41.09 L560.45 40.90 L561.45 40.90 L562.45 40.90 L563.45 40.90 L564.45 40.90 L565.46 40.90 L566.46 40.90 L567.46 40.90 L568.46 40.90 L569.46 40.90 L570.47 40.90 L571.47 40.90 L572.47 40.90 L573.47 40.90 L574.48 40.90 L575.48 40.90 L576.48 40.90 L577.48 40.90 L578.49 40.90 L579.49 40.90 L580.49 40.90 L581.49 40.90 L582.50 40.90 L583.50 40.90 L584.50 40.90 L585.51 40.90 L586.51 40.90 L587.51 40.90 L588.51 40.90 L589.52 40.90 L590.52 40.90 L591.52 40.90 L592.53 40.90 L593.53 40.90 L594.53 40.90 L595.54 40.90 L596.54 40.90 L597.54 40.90 L598.55 40.90 L599.55 40.90 L600.55 40.90 L601.55 40.90 L602.56 40.90 L603.56 40.90 L604.56 40.90 L605.57 40.90 L606.57 40.90 L607.57 40.90 L608.57 40.90 L609.58 40.90 L610.58 40.90 L611.58 40.90 L612.59 40.90 L613.59 40.90 L614.59 40.90 L615.59 40.90 L616.60 40.90 L617.60 40.90 L618.60 40.90 L619.60 40.90 L620.61 40.90 L621.61 40.90 L622.61 40.90 L623.61 40.90 L624.62 40.90 L625.62 40.90 L626.62 40.90 L627.62 40.90 L628.62 40.90 L629.63 40.90 L630.63 40.90 L631.63 40.90 L632.63 40.90 L633.63 40.90 L634.63 40.90 L635.64 40.90 L636.64 40.90 L637.64 40.90 L638.64 40.90 L639.64 40.90 L640.64 40.90 L641.64 40.90 L642.64 40.90 L643.64 40.90 L644.64 40.90 L645.64 40.90 L646.64 40.90 L647.64 40.90 L648.64 40.90 L649.64 40.90 L650.64 40.90 L651.64 40.90 L652.64 40.90 L653.64 40.90 L654.64 40.90 L655.64 40.90 L656.64 40.90 L657.64 40.90 L658.64 40.90 L659.64 40.90 L660.63 40.90 L661.63 40.90 L662.63 40.90 L663.63 40.90 L664.63 40.90 L665.62 40.90 L666.62 40.90 L667.62 40.90 L668.62 40.90 L669.61 40.90 L670.61 40.90 L671.61 40.90 L672.60 40.90 L673.60 40.90 L674.60 40.90 L675.59 40.90 L676.59 40.90 L677.58 40.90 L678.58 40.90 L679.57 40.90 L680.57 40.90 L681.56 40.90 L682.56 40.90 L683.55 40.90 L684.40 40.90" stroke="#00ff00"/>
<path d="M404.00 214.00 L404.03 212.98 L404.05 211.97 L404.07 210.96 L404.09 209.94 L404.11 208.93 L404.13 207.92 L404.14 206.91 L404.16 205.91 L404.17 204.90 L404.19 203.89 L404.21 202.89 L404.23 201.88 L404.24 200.88 L404.27 199.88 L404.29 198.87 L404.32 197.87 L404.34 196.87 L404.38 195.87 L404.41 194.87 L404.45 193.88 L404.50 192.88 L404.55 191.88 L404.60 190.89 L404.66 189.89 L404.73 188.90 L404.80 187.90 L404.88 186.91 L404.96 185.92 L405.05 184.93 L405.15 183.94 L405.26 182.94 L405.37 181.95 L405.48 180.97 L405.60 179.98 L405.73 178.99 L405.86 178.00 L405.99 177.01 L406.13 176.03 L406.28 175.04 L406.42 174.05 L406.57 173.07 L406.72 172.08 L406.87 171.10 L407.03 170.11 L407.18 169.13 L407.34 168.14 L407.50 167.16 L407.66 166.18 L407.82 165.19 L407.98 164.21 L408.14 163.23 L408.29 162.24 L408.45 161.26 L408.61 160.28 L408.76 159.30 L408.92 158.31 L409.07 157.33 L409.22 156.35 L409.37 155.37 L409.51 154.39 L409.66 153.41 L409.80 152.42 L409.95 151.44 L410.09 150.46 L410.23 149.48 L410.37 148.50 L410.52 147.52 L410.66 146.53 L410.80 145.55 L410.94 144.57 L411.08 143.59 L411.22 142.61 L411.36 141.62 L411.49 140.64 L411.63 139.66 L411.77 138.67 L411.91 137.69 L412.06 136.71 L412.20 135.72 L412.34 134.74 L412.48 133.75 L412.63 132.77 L412.77 131.78 L412.92 130.80 L413.06 129.81 L413.21 128.83 L413.36 127.84 L413.51 126.85 L413.67 125.86 L413.82 124.88 L413.98 123.89 L414.13 122.90 L414.29 121.91 L414.46 120.92 L414.62 119.93 L414.79 118.94 L414.95 117.94 L415.13 116.95 L415.30 115.96 L415.48 114.96 L415.65 113.97 L415.84 112.97 L416.02 111.98 L416.21 110.98 L416.40 109.98 L416.59 108.99 L416.79 107.99 L416.99 106.99 L417.19 105.99 L417.40 104.99 L417.61 103.99 L417.82 102.99 L418.04 101.99 L418.26 100.99 L418.48 99.99 L418.70 98.99 L418.93 97.99 L419.16 97.00 L419.39 96.00 L419.62 95.01 L419.86 94.02 L420.10 93.02 L420.34 92.04 L420.59 91.05 L420.83 90.06 L421.08 89.08 L421.33 88.10 L421.58 87.12 L421.84 86.15 L422.09 85.18 L422.35 84.21 L422.61 83.24 L422.87 82.28 L423.14 81.32 L423.40 80.36 L423.67 79.41 L423.95 78.46 L424.23 77.52 L424.51 76.58 L424.80 75.65 L425.10 74.72 L425.41 73.79 L425.73 72.87 L426.05 71.95 L426.39 71.04 L426.74 70.14 L427.10 69.24 L427.48 68.35 L427.86 67.46 L428.27 66.58 L428.68 65.70 L429.12 64.83 L429.57 63.97 L430.04 63.11 L430.53 62.26 L431.03 61.42 L431.56 60.58 L432.11 59.76 L432.68 58.94 L433.27 58.13 L433.88 57.33 L434.50 56.54 L435.15 55.77 L435.81 55.01 L436.50 54.27 L437.19 53.54 L437.91 52.83 L438.64 52.14 L439.39 51.47 L440.15 50.82 L440.92 50.20 L441.71 49.60 L442.52 49.03 L443.33 48.47 L444.16 47.95 L445.00 47.45 L445.86 46.97 L446.72 46.52 L447.59 46.09 L448.48 45.69 L449.37 45.30 L450.27 44.95 L451.18 44.61 L452.10 44.30 L453.03 44.01 L453.96 43.74 L454.90 43.49 L455.85 43.26 L456.80 43.05 L457.76 42.86 L458.73 42.69 L459.70 42.53 L460.67 42.39 L461.65 42.26 L462.64 42.14 L463.62 42.04 L464.62 41.95 L465.61 41.87 L466.61 41.80 L467.61 41.74 L468.61 41.69 L469.62 41.64 L470.62 41.60 L471.63 41.57 L472.64 41.54 L473.65 41.51 L474.66 41.49 L475.67 41.46 L476.68 41.44 L477.70 41.42 L478.71 41.40 L479.72 41.38 L480.73 41.36 L481.74 41.34 L482.75 41.32 L483.75 41.30 L484.76 41.28 L485.77 41.27 L486.78 41.25 L487.79 41.23 L488.80 41.22 L489.81 41.20 L490.81 41.18 L491.82 41.17 L492.83 41.16 L493.84 41.14 L494.84 41.13 L495.85 41.11 L496.86 41.10 L497.86 41.09 L498.87 41.08 L499.88 41.07 L500.88 40.90 L501.89 40.90 L502.90 40.90 L503.90 40.90 L504.91 40.90 L505.91 40.90 L506.92 40.90 L507.92 40.90 L508.93 40.90 L509.93 40.90 L510.93 40.90 L511.94 40.90 L512.94 40.90 L513.95 40.90 L514.95 40.90 L515.95 40.90 L516.96 40.90 L517.96 40.90 L518.96 40.90 L519.97 40.90 L520.97 40.90 L521.97 40.90 L522.97 40.90 L523.98 40.90 L524.98 40.90 L525.98 40.90 L526.98 40.90 L527.99 40.90 L528.99 40.90 L529.99 40.90 L530.99 40.90 L531.99 40.90 L532.99 40.90 L533.99 40.90 L535.00 40.90 L536.00 40.90 L537.00 40.90 L538.00 40.90 L539.00 40.90 L540.00 40.90 L541.00 40.90 L542.00 40.90 L543.00 40.90 L544.00 40.90 L545.00 40.90 L546.00 40.90 L547.00 40.90 L548.00 40.90 L549.00 40.90 L550.00 40.90 L551.00 40.90 L552.00 40.90 L553.00 40.90 L554.00 40.90 L555.00 40.90 L555.99 40.90 L556.99 40.90 L557.99 40.90 L558.99 40.90 L559.99 40.90 L560.99 40.90 L561.99 40.90 L562.99 40.90 L563.98 40.90 L564.98 40.90 L565.98 40.90 L566.98 40.90 L567.98 40.90 L568.98 40.90 L569.97 40.90 L570.97 40.90 L571.97 40.90 L572.97 40.90 L573.97 40.90 L574.96 40.90 L575.96 40.90 L576.96 40.90 L577.96 40.90 L578.96 40.90 L579.95 40.90 L580.95 40.90 L581.95 40.90 L582.95 40.90 L583.95 40.90 L584.94 40.90 L585.94 40.90 L586.94 40.90 L587.94 40.90 L588.93 40.90 L589.93 40.90 L590.93 40.90 L591.93 40.90 L592.92 40.90 L593.92 40.90 L594.92 40.90 L595.92 40.90 L596.91 40.90 L597.91 40.90 L598.91 40.90 L599.91 40.90 L600.90 40.90 L601.90 40.90 L602.90 40.90 L603.90 40.90 L604.89 40.90 L605.89 40.90 L606.89 40.90 L607.89 40.90 L608.88 40.90 L609.88 40.90 L610.88 40.90 L611.88 40.90 L612.88 40.90 L613.87 40.90 L614.87 40.90 L615.87 40.90 L616.87 40.90 L617.86 40.90 L618.86 40.90 L619.86 40.90 L620.86 40.90 L621.86 40.90 L622.86 40.90 L623.85 40.90 L624.85 40.90 L625.85 40.90 L626.85 40.90 L627.85 40.90 L628.85 40.90 L629.84 40.90 L630.84 40.90 L631.84 40.90 L632.84 40.90 L633.84 40.90 L634.84 40.90 L635.84 40.90 L636.84 40.90 L637.84 40.90 L638.83 40.90 L639.83 40.90 L640.83 40.90 L641.83 40.90 L642.83 40.90 L643.83 40.90 L644.83 40.90 L645.83 40.90 L646.83 40.90 L647.83 40.90 L648.83 40.90 L649.83 40.90 L650.83 40.90 L651.83 40.90 L652.83 40.90 L653.83 40.90 L654.83 40.90 L655.84 40.90 L656.84 40.90 L657.84 40.90 L658.84 40.90 L659.84 40.90 L660.84 40.90 L661.84 40.90 L662.84 40.90 L663.85 40.90 L664.85 40.90 L665.85 40.90 L666.85 40.90 L667.85 40.90 L668.86 40.90 L669.86 40.90 L670.86 40.90 L671.87 40.90 L672.87 40.90 L673.87 40.90 L674.87 40.90 L675.88 40.90 L676.88 40.90 L677.89 40.90 L678.89 40.90 L679.89 40.90 L680.90 40.90 L681.90 40.90 L682.91 40.90 L683.91 40.90 L684.40 40.90" stroke="#ff0000"/>
<path d="M404.00 214.00 L403.99 213.00 L403.98 212.00 L403.98 211.00 L403.98 210.00 L403.98 209.01 L403.99 208.01 L404.00 207.01 L404.01 206.01 L404.02 205.01 L404.03 204.01 L404.05 203.01 L404.07 202.01 L404.10 201.01 L404.12 200.02 L404.15 199.02 L404.18 198.02 L404.21 197.02 L404.25 196.02 L404.29 195.02 L404.33 194.02 L404.37 193.02 L404.42 192.03 L404.46 191.03 L404.51 190.03 L404.56 189.03 L404.62 188.03 L404.67 187.03 L404.73 186.04 L404.79 185.04 L404.85 184.04 L404.92 183.04 L404.98 182.04 L405.05 181.05 L405.12 180.05 L405.20 179.05 L405.27 178.05 L405.35 177.05 L405.42 176.06 L405.50 175.06 L405.58 174.06 L405.67 173.07 L405.75 172.07 L405.84 171.07 L405.93 170.07 L406.02 169.08 L406.11 168.08 L406.20 167.08 L406.30 166.09 L406.39 165.09 L406.49 164.10 L406.59 163.10 L406.69 162.10 L406.80 161.11 L406.90 160.11 L407.00 159.12 L407.11 158.12 L407.22 157.13 L407.33 156.13 L407.44 155.13 L407.55 154.14 L407.66 153.15 L407.78 152.15 L407.89 151.16 L408.01 150.16 L408.13 149.17 L408.24 148.17 L408.36 147.18 L408.49 146.19 L408.61 145.19 L408.73 144.20 L408.85 143.21 L408.98 142.21 L409.10 141.22 L409.23 140.23 L409.36 139.24 L409.48 138.24 L409.61 137.25 L409.74 136.26 L409.87 135.27 L410.00 134.28 L410.14 133.29 L410.27 132.30 L410.40 131.30 L410.53 130.31 L410.67 129.32 L410.80 128.33 L410.94 127.34 L411.07 126.35 L411.21 125.36 L411.34 124.38 L411.48 123.39 L411.62 122.40 L411.76 121.41 L411.89 120.42 L412.03 119.43 L412.17 118.44 L412.31 117.46 L412.45 116.47 L412.59 115.48 L412.73 114.50 L412.87 113.51 L413.00 112.52 L413.14 111.54 L413.28 110.55 L413.42 109.57 L413.56 108.58 L413.70 107.60 L413.84 106.61 L413.98 105.63 L414.12 104.64 L414.26 103.66 L414.40 102.68 L414.54 101.69 L414.68 100.71 L414.82 99.73 L414.97 98.74 L415.11 97.76 L415.26 96.78 L415.41 95.80 L415.56 94.82 L415.72 93.83 L415.87 92.85 L416.03 91.87 L416.20 90.89 L416.36 89.91 L416.53 88.93 L416.70 87.95 L416.88 86.97 L417.06 85.99 L417.25 85.01 L417.44 84.03 L417.63 83.05 L417.83 82.07 L418.03 81.09 L418.24 80.11 L418.46 79.13 L418.68 78.15 L418.91 77.17 L419.15 76.19 L419.39 75.21 L419.64 74.23 L419.90 73.25 L420.17 72.27 L420.45 71.29 L420.74 70.31 L421.04 69.32 L421.36 68.34 L421.68 67.35 L422.02 66.37 L422.37 65.38 L422.74 64.39 L423.12 63.40 L423.51 62.41 L423.92 61.43 L424.35 60.46 L424.79 59.50 L425.26 58.56 L425.74 57.63 L426.23 56.73 L426.75 55.85 L427.29 54.99 L427.84 54.16 L428.42 53.36 L429.02 52.60 L429.63 51.86 L430.27 51.16 L430.93 50.48 L431.61 49.84 L432.31 49.22 L433.02 48.63 L433.76 48.07 L434.51 47.54 L435.28 47.03 L436.07 46.54 L436.88 46.08 L437.71 45.65 L438.55 45.24 L439.41 44.85 L440.29 44.48 L441.18 44.13 L442.08 43.81 L443.00 43.51 L443.93 43.22 L444.87 42.96 L445.82 42.71 L446.78 42.48 L447.74 42.27 L448.71 42.07 L449.68 41.89 L450.66 41.73 L451.64 41.58 L452.62 41.44 L453.60 41.32 L454.59 41.21 L455.58 41.11 L456.57 41.02 L457.56 40.94 L458.55 40.90 L459.55 40.90 L460.55 40.90 L461.55 40.90 L462.55 40.90 L463.55 40.90 L464.55 40.90 L465.56 40.90 L466.56 40.90 L467.57 40.90 L468.58 40.90 L469.58 40.90 L470.59 40.90 L471.60 40.90 L472.61 40.90 L473.61 40.90 L474.62 40.90 L475.63 40.90 L476.64 40.90 L477.64 40.90 L478.65 40.90 L479.66 40.90 L480.66 40.90 L481.67 40.90 L482.68 40.90 L483.68 40.90 L484.69 40.90 L485.69 40.90 L486.70 40.90 L487.71 40.90 L488.71 40.90 L489.72 40.90 L490.72 40.90 L491.73 40.90 L492.73 40.90 L493.74 40.90 L494.74 40.90 L495.75 40.90 L496.75 40.90 L497.76 40.90 L498.76 40.90 L499.76 40.90 L500.77 40.90 L501.77 40.90 L502.78 40.90 L503.78 40.90 L504.78 40.90 L505.79 40.90 L506.79 40.90 L507.79 40.90 L508.80 40.90 L509.80 40.90 L510.80 40.90 L511.80 40.90 L512.81 40.90 L513.81 40.90 L514.81 40.90 L515.81 40.90 L516.82 40.90 L517.82 40.90 L518.82 40.90 L519.82 40.90 L520.83 40.90 L521.83 40.90 L522.83 40.90 L523.83 40.90 L524.83 40.90 L525.83 40.90 L526.83 40.90 L527.84 40.90 L528.84 40.90 L529.84 40.90 L530.84 40.90 L531.84 40.90 L532.84 40.90 L533.84 40.90 L534.84 40.90 L535.84 40.90 L536.84 40.90 L537.84 40.90 L538.84 40.90 L539.84 40.90 L540.84 40.90 L541.84 40.90 L542.84 40.90 L543.84 40.90 L544.84 40.90 L545.84 40.90 L546.84 40.90 L547.84 40.90 L548.84 40.90 L549.84 40.90 L550.84 40.90 L551.84 40.90 L552.84 40.90 L553.84 40.90 L554.84 40.90 L555.84 40.90 L556.84 40.90 L557.84 40.90 L558.84 40.90 L559.83 40.90 L560.83 40.90 L561.83 40.90 L562.83 40.90 L563.83 40.90 L564.83 40.90 L565.83 40.90 L566.83 40.90 L567.83 40.90 L568.82 40.90 L569.82 40.90 L570.82 40.90 L571.82 40.90 L572.82 40.90 L573.82 40.90 L574.82 40.90 L575.81 40.90 L576.81 40.90 L577.81 40.90 L578.81 40.90 L579.81 40.90 L580.81 40.90 L581.80 40.90 L582.80 40.90 L583.80 40.90 L584.80 40.90 L585.80 40.90 L586.80 40.90 L587.79 40.90 L588.79 40.90 L589.79 40.90 L590.79 40.90 L591.79 40.90 L592.79 40.90 L593.78 40.90 L594.78 40.90 L595.78 40.90 L596.78 40.90 L597.78 40.90 L598.78 40.90 L599.77 40.90 L600.77 40.90 L601.77 40.90 L602.77 40.90 L603.77 40.90 L604.77 40.90 L605.76 40.90 L606.76 40.90 L607.76 40.90 L608.76 40.90 L609.76 40.90 L610.76 40.90 L611.75 40.90 L612.75 40.90 L613.75 40.90 L614.75 40.90 L615.75 40.90 L616.75 40.90 L617.74 40.90 L618.74 40.90 L619.74 40.90 L620.74 40.90 L621.74 40.90 L622.74 40.90 L623.74 40.90 L624.74 40.90 L625.73 40.90 L626.73 40.90 L627.73 40.90 L628.73 40.90 L629.73 40.90 L630.73 40.90 L631.73 40.90 L632.73 40.90 L633.73 40.90 L634.73 40.90 L635.72 40.90 L636.72 40.90 L637.72 40.90 L638.72 40.90 L639.72 40.90 L640.72 40.90 L641.72 40.90 L642.72 40.90 L643.72 40.90 L644.72 40.90 L645.72 40.90 L646.72 40.90 L647.72 40.90 L648.72 40.90 L649.72 40.90 L650.72 40.90 L651.72 40.90 L652.72 40.90 L653.72 40.90 L654.72 40.90 L655.72 40.90 L656.72 40.90 L657.73 40.90 L658.73 40.90 L659.73 40.90 L660.73 40.90 L661.73 40.90 L662.73 40.90 L663.73 40.90 L664.73 40.90 L665.73 40.90 L666.74 40.90 L667.74 40.90 L668.74 40.90 L669.74 40.90 L670.74 40.90 L671.74 40.90 L672.75 40.90 L673.75 40.90 L674.75 40.90 L675.75 40.90 L676.76 40.90 L677.76 40.90 L678.76 40.90 L679.76 40.90 L680.77 40.90 L681.77 40.90 L682.77 40.90 L683.78 40.90 L684.40 40.90" stroke="#00ffff"/>
</g>
<rect x="616.5" y="79.5" width="63.0" height="83.0" fill="#fff" stroke="#747474" stroke-width="1"/>
<path d="M619.1 90.5H644.6" stroke="#0000ff" stroke-width="2" fill="none"/>
<text x="646.3" y="96.6" font-size="15.6" fill="#000">0.99</text>
<path d="M619.1 110.7H644.6" stroke="#00ff00" stroke-width="2" fill="none"/>
<text x="646.3" y="116.8" font-size="15.6" fill="#000">0.90</text>
<path d="M619.1 130.9H644.6" stroke="#ff0000" stroke-width="2" fill="none"/>
<text x="646.3" y="137.0" font-size="15.6" fill="#000">0.80</text>
<path d="M619.1 151.2H644.6" stroke="#00ffff" stroke-width="2" fill="none"/>
<text x="646.3" y="157.3" font-size="15.6" fill="#000">0.70</text>
<text x="398.6" y="221.8" font-size="17" fill="#262626" text-anchor="end">0</text>
<text x="398.6" y="157.6" font-size="17" fill="#262626" text-anchor="end">1</text>
<text x="398.6" y="93.5" font-size="17" fill="#262626" text-anchor="end">2</text>
<text x="398.6" y="28.8" font-size="17" fill="#262626" text-anchor="end">3</text>
<text x="404.4" y="237.2" font-size="17" fill="#262626" text-anchor="middle">0</text>
<text x="521.2" y="237.2" font-size="17" fill="#262626" text-anchor="middle">50</text>
<text x="638.1" y="237.2" font-size="17" fill="#262626" text-anchor="middle">100</text>
<text y="18.2" fill="#262626"><tspan x="404.4" y="20.8" font-size="21" fill="#484848" stroke="none">×</tspan><tspan x="417.7" y="18.2" font-size="17.6">10</tspan><tspan x="436.9" y="10.4" font-size="14.2">4</tspan></text>
<text x="544.5" y="262" font-size="19.2" fill="#262626" text-anchor="middle">T</text>
<text class="cal" transform="translate(381.2,119.2) rotate(-90) skewX(-12)" font-size="19" fill="#262626" text-anchor="middle">ℱ</text>
<text class="cap" x="535.6" y="292.2" font-size="15.6" fill="#222" text-anchor="middle">(b)</text>
</g>
</svg></body></html>
